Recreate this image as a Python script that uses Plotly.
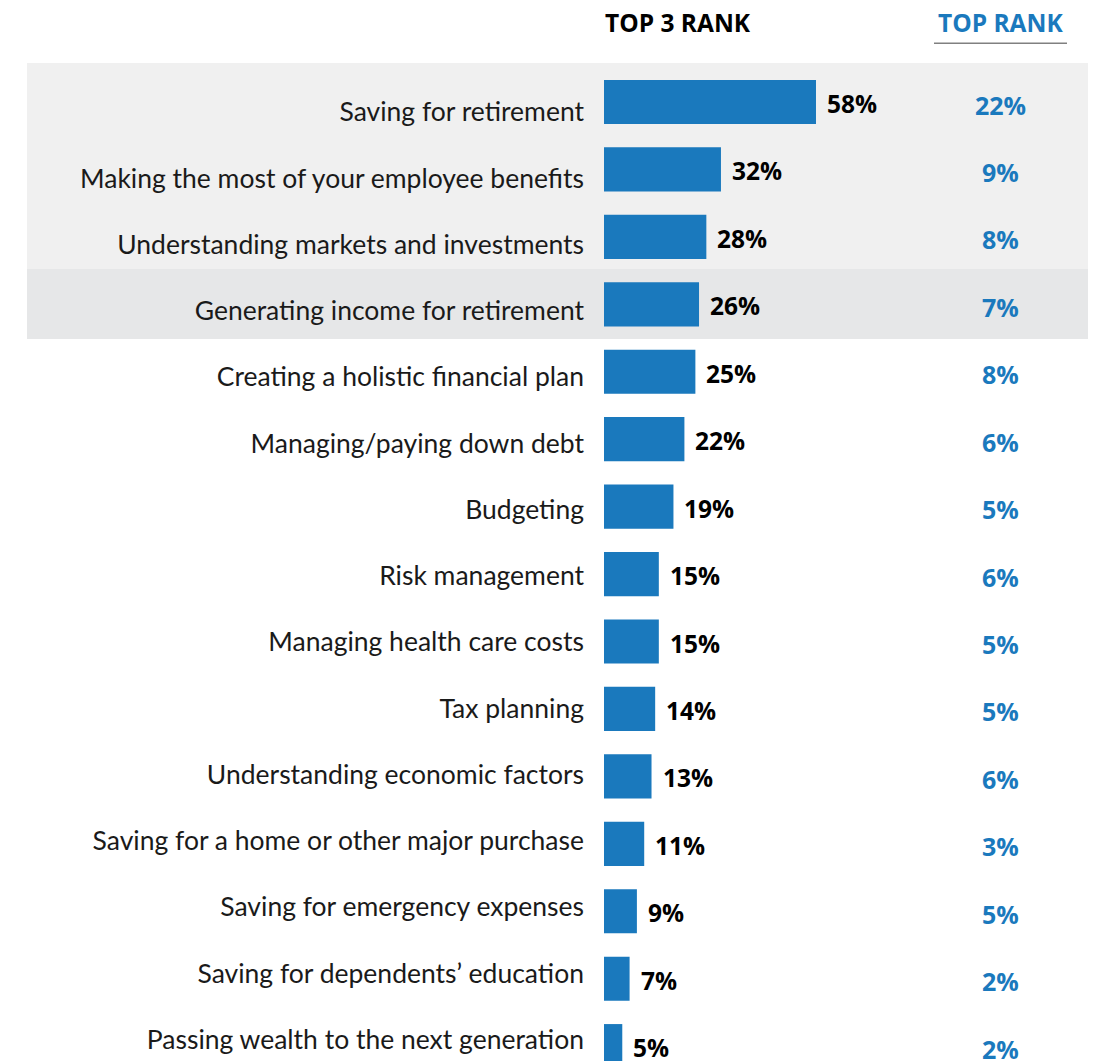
import plotly.graph_objects as go

categories = [
    "Saving for retirement",
    "Making the most of your employee benefits",
    "Understanding markets and investments",
    "Generating income for retirement",
    "Creating a holistic financial plan",
    "Managing/paying down debt",
    "Budgeting",
    "Risk management",
    "Managing health care costs",
    "Tax planning",
    "Understanding economic factors",
    "Saving for a home or other major purchase",
    "Saving for emergency expenses",
    "Saving for dependents\u2019 education",
    "Passing wealth to the next generation",
]
top3_rank = [58, 32, 28, 26, 25, 22, 19, 15, 15, 14, 13, 11, 9, 7, 5]
top_rank = [22, 9, 8, 7, 8, 6, 5, 6, 5, 5, 6, 3, 5, 2, 2]
headers = ["TOP 3 RANK", "TOP RANK"]

BLUE = "#1a79bd"
OFF = 8                      # page body margin
W, H = 1096 - OFF, 1061 - OFF
BAR_X0 = 604                 # reference px where bars start
ML, MT = BAR_X0 - OFF, 63 - OFF
PX_PER_UNIT = 3.655
x_max = (W - ML) / PX_PER_UNIT
n = len(categories)

# bar rows
pitch = 67.44
row1_center = 102 - OFF
y_top = -(row1_center - MT) / pitch
y_bot = n - 1 + (H - (row1_center + (n - 1) * pitch)) / pitch

# label rows (category labels sit on a slightly tighter grid)
lpitch = 66.25
lrow1 = 112 - OFF
y2_top = -(lrow1 - MT) / lpitch
y2_bot = n - 1 + (H - (lrow1 + (n - 1) * lpitch)) / lpitch

FONT = "Open Sans"
LFONT = "Lato"
plot_w = W - ML
plot_h = H - MT


def px(p):
    return (p - OFF - ML) / plot_w


def py(p):
    return 1 - (p - OFF - MT) / plot_h


fig = go.Figure()
fig.add_trace(go.Bar(
    x=top3_rank, y=categories, orientation="h",
    marker=dict(color=BLUE, line=dict(width=0)),
    width=0.655, hoverinfo="skip",
))
# invisible carrier for the category label axis
fig.add_trace(go.Scatter(
    x=top3_rank, y=categories, yaxis="y2", mode="markers",
    marker=dict(opacity=0), hoverinfo="skip",
))

ann = []
for c, v, t in zip(categories, top3_rank, top_rank):
    ann.append(dict(x=v, y=c, xref="x", yref="y", text=f"<b>{v}%</b>",
                    showarrow=False, xanchor="left", yanchor="middle",
                    xshift=9, yshift=-1.5,
                    font=dict(family=FONT, size=24.5, color="#000000")))
    ann.append(dict(x=(1000 - BAR_X0) / PX_PER_UNIT, y=c, xref="x", yref="y",
                    text=f"<b>{t}%</b>", showarrow=False, xanchor="center",
                    yanchor="middle", yshift=-2.5,
                    font=dict(family=FONT, size=25, color=BLUE)))

ann.append(dict(x=px(678), y=py(23), xref="paper", yref="paper",
                xanchor="center", yanchor="middle",
                text=f"<b>{headers[0]}</b>", showarrow=False,
                font=dict(family=FONT, size=24.5, color="#000000", weight=800)))
ann.append(dict(x=px(1000), y=py(23), xref="paper", yref="paper",
                xanchor="center", yanchor="middle",
                text=f"<b>{headers[1]}</b>", showarrow=False,
                font=dict(family=FONT, size=24.5, color=BLUE, weight=800)))

shapes = [
    dict(type="rect", xref="paper", yref="paper", x0=px(27), x1=px(1089),
         y0=py(269), y1=py(63), fillcolor="#f0f0f0", line=dict(width=0), layer="below"),
    dict(type="rect", xref="paper", yref="paper", x0=px(27), x1=px(1089),
         y0=py(339), y1=py(269), fillcolor="#e6e7e8", line=dict(width=0), layer="below"),
    dict(type="line", xref="paper", yref="paper", x0=px(934), x1=px(1067),
         y0=py(43.3), y1=py(43.3), line=dict(color="#808080", width=1.5)),
]

fig.update_layout(
    width=W, height=H,
    margin=dict(l=ML, r=0, t=MT, b=0, autoexpand=False),
    paper_bgcolor="white", plot_bgcolor="rgba(0,0,0,0)",
    showlegend=False,
    annotations=ann, shapes=shapes,
    xaxis=dict(range=[0, x_max], visible=False, fixedrange=True),
    yaxis=dict(range=[y_bot, y_top], autorange=False, showgrid=False,
               zeroline=False, showline=False, ticks="", showticklabels=False),
    yaxis2=dict(range=[y2_bot, y2_top], autorange=False, overlaying="y",
                side="left", anchor="x", showgrid=False, zeroline=False,
                showline=False, ticks="", ticklabelstandoff=19,
                categoryorder="array", categoryarray=categories,
                tickfont=dict(family=LFONT, size=26.5, color="#1a1a1a")),
    font=dict(family=FONT),
)

fig.write_html("out.html")
